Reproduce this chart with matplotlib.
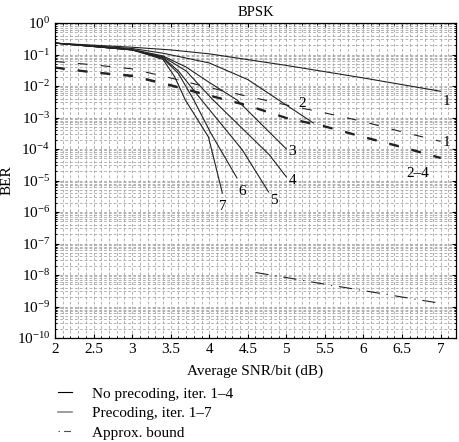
import numpy as np
import matplotlib
matplotlib.use("Agg")
import matplotlib.pyplot as plt
from matplotlib.lines import Line2D

plt.rcParams['font.family'] = ['Liberation Serif', 'DejaVu Serif']
plt.rcParams['mathtext.fontset'] = 'custom'
plt.rcParams['mathtext.rm'] = 'Liberation Serif'
plt.rcParams['mathtext.it'] = 'Liberation Serif:italic'
plt.rcParams['lines.scale_dashes'] = False

# --- Dati ---
# Precoding, iterazioni 1-7 (linee continue)
prec_x = [
    [2, 3, 3.5, 4, 5, 6, 7],
    [2, 3, 3.4, 4, 4.5, 4.9, 5.35],
    [2, 3, 3.4, 3.7, 4, 4.36, 5.0],
    [2, 3, 3.4, 3.7, 4.05, 4.78, 5.0],
    [2, 3, 3.4, 3.6, 3.9, 4.43, 4.77],
    [2, 3, 3.4, 3.6, 3.8, 4.02, 4.36],
    [2, 3, 3.4, 3.55, 3.69, 3.99, 4.17],
]
prec_ber = [
    [0.23, 0.17, 0.14, 0.105, 0.045, 0.018, 0.0068],
    [0.23, 0.155, 0.11, 0.054, 0.016, 0.0036, 0.00067],
    [0.23, 0.145, 0.09, 0.04, 0.013, 3.6e-3, 1.0e-4],
    [0.23, 0.14, 0.085, 0.03, 3.6e-3, 6.5e-5, 1.3e-5],
    [0.23, 0.14, 0.08, 0.03, 3.6e-3, 9.3e-5, 4.3e-6],
    [0.23, 0.14, 0.075, 0.025, 3.6e-3, 3.2e-4, 1.2e-5],
    [0.23, 0.14, 0.07, 0.02, 3.6e-3, 2.4e-4, 4.0e-6],
]

# No precoding, iterazioni 1-4 (tratteggiate)
noprec_x = [2, 2.5, 3, 3.5, 4, 4.5, 5, 5.5, 6, 6.5, 7]
noprec_ber = [
    [0.060, 0.047, 0.035, 0.018, 8.9e-3, 4.7e-3, 2.5e-3, 1.4e-3, 7.4e-4, 3.5e-4, 1.75e-4],
    [0.040, 0.028, 0.022, 0.011, 5.2e-3, 2.5e-3, 1.0e-3, 5.4e-4, 2.5e-4, 1.2e-4, 5.4e-5],
    [0.038, 0.027, 0.021, 0.0105, 5.0e-3, 2.4e-3, 0.97e-3, 5.2e-4, 2.4e-4, 1.15e-4, 5.2e-5],
    [0.037, 0.026, 0.020, 0.010, 4.8e-3, 2.3e-3, 0.93e-3, 5.0e-4, 2.3e-4, 1.1e-4, 5.0e-5],
]

# Approx. bound (tratto-punto)
bound_x = [4.6, 5, 5.5, 6, 6.5, 7]
bound_ber = [1.2e-8, 8.3e-9, 5.1e-9, 3.2e-9, 2.0e-9, 1.26e-9]

# etichette sulle curve: (testo, x, BER)
curve_labels = [
    ("1", 7.08, 3.2e-3), ("1", 7.08, 1.6e-4), ("2\u20134", 6.71, 1.7e-5),
    ("2", 5.2, 2.8e-3), ("3", 5.07, 8.2e-5), ("4", 5.08, 1.0e-5),
    ("5", 4.84, 2.3e-6), ("6", 4.43, 4.4e-6), ("7", 4.17, 1.5e-6),
]

x_ticks = [2, 2.5, 3, 3.5, 4, 4.5, 5, 5.5, 6, 6.5, 7]
x_ticklabels = ["2", "2.5", "3", "3.5", "4", "4.5", "5", "5.5", "6", "6.5", "7"]
y_exps = list(range(0, -11, -1))

fig = plt.figure(figsize=(4.6, 4.42), dpi=100)
ax = fig.add_axes([55 / 460, 1 - 338 / 442, (456 - 55) / 460, (338 - 23) / 442])

lc = '#222222'
for xs, ys in zip(prec_x, prec_ber):
    ax.plot(xs, ys, color=lc, lw=0.8)

ax.plot(noprec_x, noprec_ber[0], color=lc, lw=0.8, dashes=(7, 9.5))
for ys in noprec_ber[1:]:
    ax.plot(noprec_x, ys, color=lc, lw=0.9, dashes=(7, 9.5), dash_capstyle='butt')

ax.plot(bound_x, bound_ber, color=lc, lw=0.8, dashes=(9.5, 5, 0.8, 5))

for txt, xx, yy in curve_labels:
    ax.text(xx, yy, txt, fontsize=11, ha='center', va='center')

ax.set_yscale('log')
ax.set_xlim(2, 7.2)
ax.set_ylim(1e-10, 1)
ax.set_xticks(x_ticks)
ax.set_xticklabels(x_ticklabels)
ax.set_xticks(np.arange(2, 7.25, 0.1), minor=True)
ax.set_yticks([10.0 ** e for e in y_exps])
ax.set_yticklabels([r'$10^{%d}$' % e for e in y_exps])
ax.yaxis.set_minor_locator(matplotlib.ticker.LogLocator(base=10, subs=np.arange(2, 10), numticks=20))
ax.yaxis.set_minor_formatter(matplotlib.ticker.NullFormatter())
ax.tick_params(which='both', direction='in', top=True, right=True, labelsize=11)
ax.tick_params(which='major', length=3)
ax.tick_params(which='minor', length=1.5)
ax.grid(True, which='both', linestyle=(0, (2, 1.5)), color='0.65', lw=0.6)
for s in ax.spines.values():
    s.set_linewidth(0.9)

ax.set_title("BPSK", fontsize=10.5, pad=5)
ax.set_xlabel("Average SNR/bit (dB)", fontsize=11, labelpad=6)
ax.set_ylabel("BER", fontsize=11)
ax.yaxis.set_label_coords(-0.103, 0.5)

handles = [
    Line2D([], [], color='black', lw=0.8),
    Line2D([], [], color='0.55', lw=1.2),
    Line2D([], [], color='0.3', lw=0.8, dashes=(1, 3, 5, 2)),
]
names = ["No precoding, iter. 1\u20134", "Precoding, iter. 1\u20137", "Approx. bound"]
fig.legend(handles, names, loc='upper left', bbox_to_anchor=(52 / 460, 1 - 381 / 442),
           frameon=False, fontsize=11, handlelength=0.9, handletextpad=1.3,
           labelspacing=0.38, borderaxespad=0)

fig.savefig("out.png", dpi=100)
